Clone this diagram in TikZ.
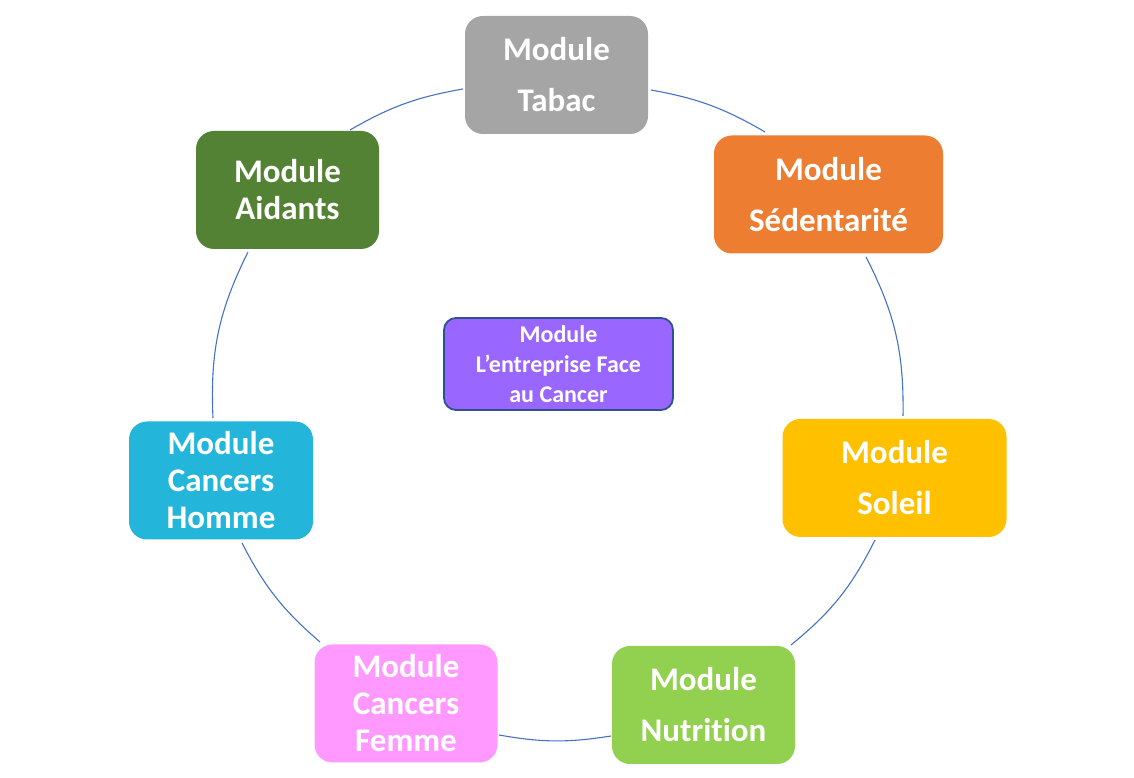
\documentclass[tikz,border=0pt]{standalone}
\usepackage{fontspec}
\setmainfont{Carlito}[Ligatures={NoCommon}]
\definecolor{cTabac}{HTML}{A5A5A5}
\definecolor{cSed}{HTML}{ED7D31}
\definecolor{cSoleil}{HTML}{FFC000}
\definecolor{cNutr}{HTML}{92D050}
\definecolor{cFemme}{HTML}{FF99FF}
\definecolor{cHomme}{HTML}{24B6DA}
\definecolor{cAid}{HTML}{548235}
\definecolor{cCenter}{HTML}{9966FF}
\definecolor{cBorder}{HTML}{2F528F}
\definecolor{cArc}{HTML}{4472C4}
\begin{document}
\begin{tikzpicture}[x=1pt,y=1pt,
  box/.style={rounded corners=18pt, minimum width=183pt, minimum height=118pt,
    inner sep=0pt, align=center, text=white},
  wide/.style={font=\bfseries\fontsize{33}{51}\selectfont},
  tight/.style={font=\bfseries\fontsize{33}{37}\selectfont},
  centerbox/.style={rounded corners=12pt, minimum width=229pt, minimum height=92pt,
    inner sep=0pt, align=center, text=white, fill=cCenter, draw=cBorder, line width=1.8pt,
    font=\bfseries\fontsize{24}{30}\selectfont},
  arc/.style={draw=cArc, line width=1.1pt}]
\useasboundingbox (0,0) rectangle (1134,778);

% arcs
\coordinate (a1s) at (350,648); \coordinate (a1e) at (463,689);
\coordinate (a2s) at (651,688); \coordinate (a2e) at (765,646);
\coordinate (a3s) at (866,521); \coordinate (a3e) at (903,362);
\coordinate (a4s) at (875,238); \coordinate (a4e) at (791,133);
\coordinate (a5s) at (611,42);  \coordinate (a5e) at (499,43);
\coordinate (a6s) at (320,136); \coordinate (a6e) at (242,235);
\coordinate (a7s) at (213,360); \coordinate (a7e) at (248,526);
\draw[arc] (a1s) to[bend left=10] (a1e);
\draw[arc] (a2s) to[bend left=10] (a2e);
\draw[arc] (a3s) to[bend left=14] (a3e);
\draw[arc] (a4s) to[bend left=12] (a4e);
\draw[arc] (a5s) to[bend left=9.5] (a5e);
\draw[arc] (a6s) to[bend left=11] (a6e);
\draw[arc] (a7s) to[bend left=14.5] (a7e);

% boxes
\node[box, wide, fill=cTabac] (tabac) at (556.5,703) {Module\\Tabac};
\node[box, wide, fill=cSed, minimum width=229pt] (sed) at (828.5,583.5) {Module\\Sédentarité};
\node[box, wide, fill=cSoleil, minimum width=224pt] (soleil) at (894.5,300) {Module\\Soleil};
\node[box, wide, fill=cNutr] (nutr) at (703.5,73) {Module\\Nutrition};
\node[box, tight, fill=cFemme] (femme) at (406,74.5) {Module\\Cancers\\Femme};
\node[box, tight, fill=cHomme, minimum width=184pt] (homme) at (221,297.5) {Module\\Cancers\\Homme};
\node[box, tight, fill=cAid] (aid) at (287.5,588) {Module\\Aidants};
\node[centerbox] (center) at (558.5,414) {Module\\L’entreprise Face\\au Cancer};
\end{tikzpicture}
\end{document}
